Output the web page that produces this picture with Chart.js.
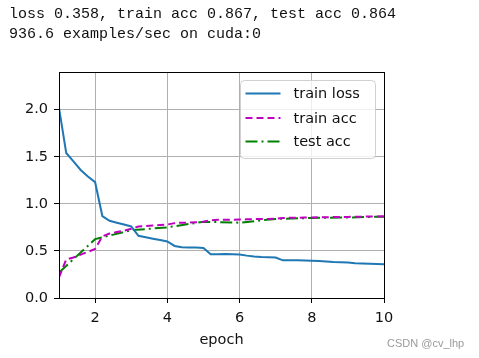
<!DOCTYPE html>
<html>
<head>
<meta charset="utf-8">
<script src="https://cdn.jsdelivr.net/npm/chart.js@4.4.0/dist/chart.umd.min.js"></script>
<style>
  html, body { margin: 0; padding: 0; background: #fff; width: 479px; height: 358px; overflow: hidden; }
  #hdr { position: absolute; left: 9px; top: 5px; font: 15px/20px "Liberation Mono", "DejaVu Sans Mono", monospace; color: #111; white-space: pre; }
  #wm { position: absolute; left: 387px; top: 337px; font: 11px "Liberation Sans", Arial, sans-serif; color: #9a9a9a; white-space: pre; }
  #c { position: absolute; left: 0; top: 0; }
</style>
</head>
<body>
<canvas id="c" width="479" height="358"></canvas>
<div id="hdr">loss 0.358, train acc 0.867, test acc 0.864
936.6 examples/sec on cuda:0</div>
<div id="wm">CSDN @cv_lhp</div>
<script>
// ---- data ----
const seriesNames = ["train loss", "train acc", "test acc"];
const batchEpochs = [1.0, 1.2, 1.4, 1.6, 1.8, 2.0, 2.2, 2.4, 2.6, 2.8, 3.0, 3.2, 3.4, 3.6, 3.8, 4.0,
  4.2, 4.4, 4.6, 4.8, 5.0, 5.2, 5.4, 5.6, 5.8, 6.0, 6.2, 6.4, 6.6, 6.8, 7.0, 7.2, 7.4, 7.6, 7.8, 8.0,
  8.2, 8.4, 8.6, 8.8, 9.0, 9.2, 9.4, 9.6, 9.8, 10.0];
const trainLoss = [2.02, 1.54, 1.45, 1.36, 1.29, 1.23, 0.87, 0.82, 0.80, 0.78, 0.76, 0.66, 0.645, 0.63, 0.615, 0.60,
  0.553, 0.54, 0.535, 0.535, 0.53, 0.465, 0.465, 0.467, 0.465, 0.462, 0.45, 0.44, 0.435, 0.433, 0.43, 0.40, 0.40, 0.40, 0.398, 0.395,
  0.393, 0.388, 0.382, 0.38, 0.378, 0.37, 0.366, 0.363, 0.36, 0.358];
const trainAcc = [0.22, 0.41, 0.43, 0.46, 0.49, 0.52, 0.655, 0.685, 0.70, 0.715, 0.735, 0.76, 0.765, 0.77, 0.775, 0.78,
  0.795, 0.80, 0.80, 0.805, 0.81, 0.825, 0.83, 0.83, 0.832, 0.833, 0.835, 0.838, 0.84, 0.84, 0.842, 0.85, 0.852, 0.853, 0.854, 0.855,
  0.857, 0.858, 0.859, 0.86, 0.861, 0.863, 0.864, 0.865, 0.866, 0.867];
const testEpochs = [1, 2, 3, 4, 5, 6, 7, 8, 9, 10];
const testAcc = [0.27, 0.625, 0.72, 0.75, 0.81, 0.80, 0.84, 0.85, 0.855, 0.864];
const xTicks = [2, 4, 6, 8, 10];
const yTicks = [0.0, 0.5, 1.0, 1.5, 2.0];
const xRange = [1, 10];
const yRange = [0, 2.4];
const xTitle = "epoch";

const FONT = "'DejaVu Sans', 'Liberation Sans', sans-serif";
const styles = [
  { color: "#1f77b4", dash: [] },
  { color: "#bf00bf", dash: [7, 4] },
  { color: "#008000", dash: [12, 4, 2, 4] }
];
const pairs = (xs, ys) => xs.map((x, i) => ({ x: x, y: ys[i] }));

const framePlugin = {
  id: "frame",
  afterDatasetsDraw(chart) {
    const { ctx, chartArea: a } = chart;
    ctx.save();
    ctx.strokeStyle = "#000";
    ctx.lineWidth = 1;
    ctx.strokeRect(Math.round(a.left) + 0.5, Math.round(a.top) + 0.5,
      Math.round(a.right - a.left), Math.round(a.bottom - a.top));
    ctx.restore();
  },
  afterDraw(chart) {
    const { ctx, chartArea: a } = chart;
    const w = 135, h = 78;
    const x0 = a.right - 8.5 - w, y0 = a.top + 8.5;
    ctx.save();
    ctx.beginPath();
    ctx.roundRect(x0, y0, w, h, 4);
    ctx.fillStyle = "rgba(255,255,255,0.8)";
    ctx.fill();
    ctx.strokeStyle = "#d0d0d0";
    ctx.lineWidth = 1;
    ctx.stroke();
    const rows = [13, 37.5, 61];
    chart.data.datasets.forEach((ds, i) => {
      const y = y0 + rows[i];
      ctx.beginPath();
      ctx.setLineDash(ds.borderDash || []);
      ctx.strokeStyle = ds.borderColor;
      ctx.lineWidth = 2;
      ctx.moveTo(x0 + 5, y);
      ctx.lineTo(x0 + 40, y);
      ctx.stroke();
      ctx.setLineDash([]);
      ctx.fillStyle = "#111";
      ctx.font = "14.5px " + FONT;
      ctx.textBaseline = "middle";
      ctx.textAlign = "left";
      ctx.fillText(ds.label, x0 + 53, y + 1);
    });
    ctx.restore();
  }
};

new Chart(document.getElementById("c"), {
  type: "line",
  data: {
    datasets: [
      { label: seriesNames[0], data: pairs(batchEpochs, trainLoss) },
      { label: seriesNames[1], data: pairs(batchEpochs, trainAcc) },
      { label: seriesNames[2], data: pairs(testEpochs, testAcc) }
    ].map((d, i) => Object.assign(d, {
      borderColor: styles[i].color,
      borderDash: styles[i].dash,
      borderWidth: 2,
      pointRadius: 0,
      fill: false,
      tension: 0
    }))
  },
  options: {
    responsive: false,
    animation: false,
    devicePixelRatio: 1,
    layout: { padding: { top: 72, right: 95, left: 0, bottom: 0 } },
    plugins: { legend: { display: false }, tooltip: { enabled: false } },
    scales: {
      x: {
        type: "linear", min: xRange[0], max: xRange[1],
        afterFit(s) { s.height = 60; },
        afterBuildTicks(s) { s.ticks = xTicks.map(v => ({ value: v })); },
        grid: { color: "#b0b0b0", lineWidth: 1, tickColor: "#000", tickLength: 5 },
        border: { display: false },
        ticks: { color: "#111", font: { family: FONT, size: 14.5 }, padding: 7, maxRotation: 0, callback: v => String(v) },
        title: { display: true, text: xTitle, color: "#111", font: { family: FONT, size: 14.5 }, padding: { top: 0, bottom: 9 } }
      },
      y: {
        type: "linear", min: yRange[0], max: yRange[1],
        afterFit(s) { s.width = 59; },
        afterBuildTicks(s) { s.ticks = yTicks.map(v => ({ value: v })); },
        grid: { color: "#b0b0b0", lineWidth: 1, tickColor: "#000", tickLength: 5 },
        border: { display: false },
        ticks: { color: "#111", font: { family: FONT, size: 14.5 }, padding: 6, callback: v => v.toFixed(1) }
      }
    }
  },
  plugins: [framePlugin]
});
</script>
</body>
</html>
